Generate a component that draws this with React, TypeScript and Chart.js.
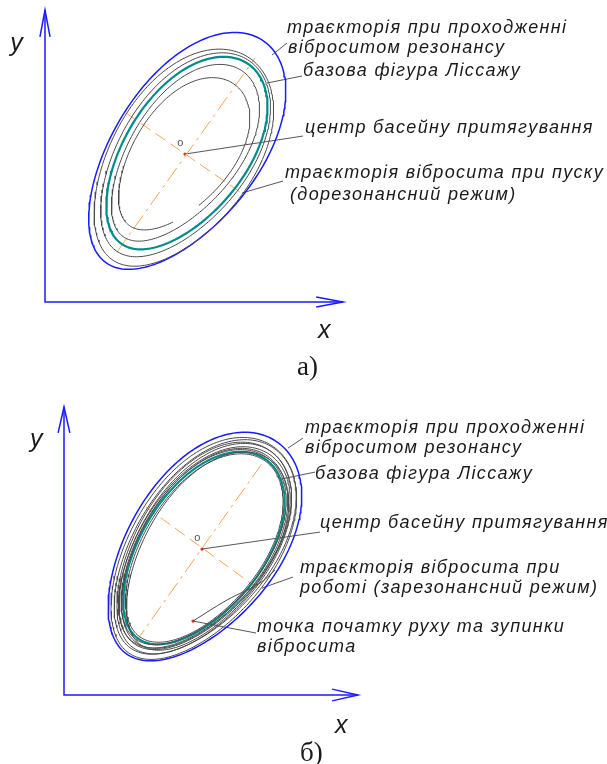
import { useEffect, useRef } from "react";
import { Chart, registerables } from "chart.js";

Chart.register(...registerables);

// ---------- Panel а: start-up, pre-resonance mode ----------
// Trajectory loops of the vibrating screen: centre, semi-axes, tilt, egg factor, arc start and sweep (deg)
const launchLoopCx = [45.64, 46.31, 46.31, 45.97];
const launchLoopCy = [47.99, 48.99, 49.66, 49.33];
const launchLoopA = [40.94, 38.93, 34.23, 29.53];
const launchLoopB = [23.6, 21.6, 18.0, 16.3];
const launchLoopTilt = [56, 55, 54, 53];
const launchLoopEgg = [0.1, 0.1, 0.12, 0.12];
const launchLoopStart = [0, 0, 0, 250];
const launchLoopSweep = [360, 360, 360, 338];
// base Lissajous figure and resonance envelope: cx, cy, a, b, tilt, egg factor
const launchBase = [46.98, 49.66, 36.91, 20.3, 54.6, 0.08];
const launchEnvelope = [46.98, 50.34, 45.64, 24.3, 54.5, 0.08];
// principal axes of the base figure
const launchMajorAxis = [[24.16, 16.78], [70.47, 81.88]];
const launchMinorAxis = [[27.18, 63.42], [66.44, 36.24]];
const launchCentre = [46.98, 49.66];
// callout leaders
const launchLeaders = [
  [[76.17, 82.89], [81.21, 86.91]],
  [[74.5, 73.49], [86.24, 75.84]],
  [[46.98, 49.66], [86.58, 55.7]],
  [[66.11, 36.58], [79.87, 40.6]],
];
const launchLabelText = [
  "траєкторія при проходженні",
  "віброситом резонансу",
  "базова фігура Ліссажу",
  "центр басейну притягування",
  "траєкторія вібросита при пуску",
  "(дорезонансний режим)",
];
const launchLabelPos = [
  [81.21, 90.27],
  [81.54, 83.56],
  [86.58, 75.84],
  [87.25, 56.71],
  [80.54, 41.61],
  [82.21, 34.23],
];

// ---------- Panel б: operation, post-resonance mode ----------
const workLoopCx = [46.6, 47.1, 46.8, 47.2, 46.9, 47.0, 46.7, 47.1, 48.0];
const workLoopCy = [49.4, 49.9, 49.6, 50.1, 49.8, 49.5, 49.9, 49.7, 48.6];
const workLoopA = [42.86, 41.84, 40.82, 40.14, 39.46, 38.78, 38.1, 36.73, 38.4];
const workLoopB = [24.2, 23.2, 22.6, 21.9, 21.6, 21.2, 20.9, 19.9, 20.6];
const workLoopTilt = [55, 54, 55.5, 54.5, 53.5, 55, 54, 54.5, 55.5];
const workLoopEgg = [0.1, 0.1, 0.1, 0.1, 0.1, 0.1, 0.1, 0.08, 0.1];
const workBase = [46.94, 49.66, 37.41, 20.6, 54.6, 0.08];
const workEnvelope = [46.94, 50.0, 44.22, 25.3, 54.5, 0.1];
const workStartPath = [[43.88, 25.17], [55.44, 32.31], [66.67, 38.1], [71.77, 42.52]];
const workMajorAxis = [[24.15, 17.69], [69.39, 81.63]];
const workMinorAxis = [[27.89, 63.95], [66.67, 35.71]];
const workCentre = [46.94, 49.66];
const workStartPoint = [43.88, 25.17];
const workLeaders = [
  [[76.19, 84.01], [81.29, 87.41]],
  [[73.81, 73.47], [85.37, 75.85]],
  [[46.94, 49.66], [87.07, 55.44]],
  [[67.35, 36.39], [77.89, 40.14]],
  [[43.88, 25.17], [65.31, 21.09]],
];
const workLabelText = [
  "траєкторія при проходженні",
  "віброситом резонансу",
  "базова фігура Ліссажу",
  "центр басейну притягування",
  "траєкторія вібросита при",
  "роботі (зарезонансний режим)",
  "точка початку руху та зупинки",
  "вібросита",
];
const workLabelPos = [
  [81.97, 89.12],
  [81.97, 82.31],
  [85.37, 73.47],
  [87.07, 56.8],
  [80.27, 41.5],
  [80.27, 34.69],
  [65.65, 21.43],
  [65.65, 14.63],
];

// axis range shared by both panels (equal units on x and y)
const X_MAX = 100;
const Y_MAX = 98;

type Pt = { x: number; y: number };

// closed (or partial) egg-shaped loop: the minor half-width grows towards the +u end
function loop(cx: number, cy: number, a: number, b: number, tiltDeg: number, egg = 0, startDeg = 0, sweepDeg = 360, n = 200): Pt[] {
  const th = (tiltDeg * Math.PI) / 180;
  const c = Math.cos(th);
  const s = Math.sin(th);
  const pts: Pt[] = [];
  for (let i = 0; i <= n; i++) {
    const t = ((startDeg + (sweepDeg * i) / n) * Math.PI) / 180;
    const u = a * Math.cos(t);
    const v = b * Math.sin(t) * (1 + egg * Math.cos(t));
    pts.push({ x: cx + u * c - v * s, y: cy + u * s + v * c });
  }
  return pts;
}

const toPts = (arr: number[][]): Pt[] => arr.map(([x, y]) => ({ x, y }));

const BLUE = "#1a1aff";
const TEAL = "#008c8c";
const GREY = "#4a4a4a";
const ORANGE = "#f6a556";
const LEADER = "#444444";
const INK = "#1a1a1a";

function lineDs(data: Pt[], color: string, width: number, extra: any = {}) {
  return {
    data,
    showLine: true,
    borderColor: color,
    borderWidth: width,
    pointRadius: 0,
    tension: 0,
    clip: false,
    ...extra,
  };
}

type Label = { text: string; x: number; y: number; font: string; color: string; spacing: string };

type PanelSpec = {
  loops: Pt[][];
  base: Pt[];
  envelope: Pt[];
  major: Pt[];
  minor: Pt[];
  leaders: Pt[][];
  centre: Pt;
  extraPaths: Pt[][];
  startPoint?: Pt;
  labels: Label[];
  arrowHalf: number;
  arrowLen: number;
  padding: { left: number; right: number; top: number; bottom: number };
};

const LABEL_FONT = "italic 18px 'Liberation Sans', Arial, sans-serif";
const AXIS_FONT = "italic 25px 'Liberation Sans', Arial, sans-serif";
const CAPTION_FONT = "27px 'Liberation Serif', 'Times New Roman', serif";
const SMALL_FONT = "11px 'Liberation Sans', Arial, sans-serif";

function makeLabels(texts: string[], pos: number[][], centre: number[], oShift: number, axisY: number[], axisX: number[], caption: string, captionPos: number[]): Label[] {
  const out: Label[] = texts.map((t, i) => ({ text: t, x: pos[i][0], y: pos[i][1], font: LABEL_FONT, color: INK, spacing: "1.35px" }));
  out.push({ text: "o", x: centre[0] - oShift, y: centre[1] + 2.7, font: SMALL_FONT, color: "#555", spacing: "0px" });
  out.push({ text: "y", x: axisY[0], y: axisY[1], font: AXIS_FONT, color: INK, spacing: "0px" });
  out.push({ text: "x", x: axisX[0], y: axisX[1], font: AXIS_FONT, color: INK, spacing: "0px" });
  out.push({ text: caption, x: captionPos[0], y: captionPos[1], font: CAPTION_FONT, color: INK, spacing: "0px" });
  return out;
}

const fig = (p: number[]) => loop(p[0], p[1], p[2], p[3], p[4], p[5]);

const launchSpec: PanelSpec = {
  loops: launchLoopCx.map((_, i) =>
    loop(launchLoopCx[i], launchLoopCy[i], launchLoopA[i], launchLoopB[i], launchLoopTilt[i], launchLoopEgg[i], launchLoopStart[i], launchLoopSweep[i])
  ),
  base: fig(launchBase),
  envelope: fig(launchEnvelope),
  major: toPts(launchMajorAxis),
  minor: toPts(launchMinorAxis),
  leaders: launchLeaders.map(toPts),
  centre: { x: launchCentre[0], y: launchCentre[1] },
  extraPaths: [],
  labels: makeLabels(launchLabelText, launchLabelPos, launchCentre, 2.6, [-11.7, 84.2], [91.6, -12.1], "а)", [84.6, -24.6]),
  arrowHalf: 1.7,
  arrowLen: 9,
  padding: { left: 45, right: 607 - 343, top: 10, bottom: 382 - 302 },
};

const workSpec: PanelSpec = {
  loops: workLoopCx.map((_, i) => loop(workLoopCx[i], workLoopCy[i], workLoopA[i], workLoopB[i], workLoopTilt[i], workLoopEgg[i])),
  base: fig(workBase),
  envelope: fig(workEnvelope),
  major: toPts(workMajorAxis),
  minor: toPts(workMinorAxis),
  leaders: workLeaders.map(toPts),
  centre: { x: workCentre[0], y: workCentre[1] },
  extraPaths: [toPts(workStartPath)],
  startPoint: { x: workStartPoint[0], y: workStartPoint[1] },
  labels: makeLabels(workLabelText, workLabelPos, workCentre, 2.6, [-11.56, 84.35], [92.18, -12.93], "б)", [80.27, -22.3]),
  arrowHalf: 2.0,
  arrowLen: 8.8,
  padding: { left: 64, right: 607 - 358, top: 407 - 382, bottom: 382 - 313 },
};

function buildConfig(spec: PanelSpec): any {
  const datasets: any[] = [];
  spec.loops.forEach((l) => datasets.push(lineDs(l, GREY, 1)));
  spec.extraPaths.forEach((p) => datasets.push(lineDs(p, GREY, 1, { tension: 0.4 })));
  datasets.push(lineDs(spec.base, TEAL, 2.2));
  datasets.push(lineDs(spec.envelope, BLUE, 1.5));
  datasets.push(lineDs(spec.major, ORANGE, 1, { borderDash: [16, 5, 3, 5] }));
  datasets.push(lineDs(spec.minor, ORANGE, 1, { borderDash: [12, 6] }));
  spec.leaders.forEach((l) => datasets.push(lineDs(l, LEADER, 0.9)));
  // coordinate axes with open arrow heads
  datasets.push(lineDs([{ x: 0, y: Y_MAX }, { x: 0, y: 0 }, { x: X_MAX, y: 0 }], BLUE, 1.5));
  datasets.push(
    lineDs(
      [
        { x: -spec.arrowHalf, y: Y_MAX - spec.arrowLen },
        { x: 0, y: Y_MAX },
        { x: spec.arrowHalf, y: Y_MAX - spec.arrowLen },
      ],
      BLUE,
      1.5
    )
  );
  datasets.push(
    lineDs(
      [
        { x: X_MAX - spec.arrowLen, y: spec.arrowHalf },
        { x: X_MAX, y: 0 },
        { x: X_MAX - spec.arrowLen, y: -spec.arrowHalf },
      ],
      BLUE,
      1.5
    )
  );
  const dots = [spec.centre];
  if (spec.startPoint) dots.push(spec.startPoint);
  datasets.push({
    data: dots,
    showLine: false,
    pointRadius: 1.6,
    pointBorderWidth: 0,
    pointBackgroundColor: "#e0301e",
    clip: false,
  });

  const textPlugin = {
    id: "panelText",
    afterDatasetsDraw(chart: any) {
      const { ctx } = chart;
      const xs = chart.scales.x;
      const ys = chart.scales.y;
      for (const t of spec.labels) {
        ctx.save();
        ctx.font = t.font;
        ctx.fillStyle = t.color;
        (ctx as any).letterSpacing = t.spacing;
        ctx.textAlign = "left";
        ctx.textBaseline = "alphabetic";
        ctx.fillText(t.text, xs.getPixelForValue(t.x), ys.getPixelForValue(t.y));
        ctx.restore();
      }
    },
  };

  return {
    type: "scatter",
    data: { datasets },
    options: {
      animation: false,
      responsive: false,
      maintainAspectRatio: false,
      devicePixelRatio: 1,
      layout: { padding: spec.padding },
      scales: {
        x: { type: "linear", min: 0, max: X_MAX, display: false },
        y: { type: "linear", min: 0, max: Y_MAX, display: false },
      },
      plugins: { legend: { display: false }, tooltip: { enabled: false } },
      events: [],
    },
    plugins: [textPlugin],
  };
}

function Panel({ spec }: { spec: PanelSpec }) {
  const ref = useRef<HTMLCanvasElement | null>(null);
  useEffect(() => {
    if (!ref.current) return;
    const chart = new Chart(ref.current, buildConfig(spec));
    return () => chart.destroy();
  }, [spec]);
  return <canvas ref={ref} width={607} height={382} style={{ display: "block", width: 607, height: 382 }} />;
}

export default function App() {
  return (
    <div style={{ position: "fixed", left: 0, top: 0, width: 607, height: 764, background: "#fff" }}>
      <Panel spec={launchSpec} />
      <Panel spec={workSpec} />
    </div>
  );
}
